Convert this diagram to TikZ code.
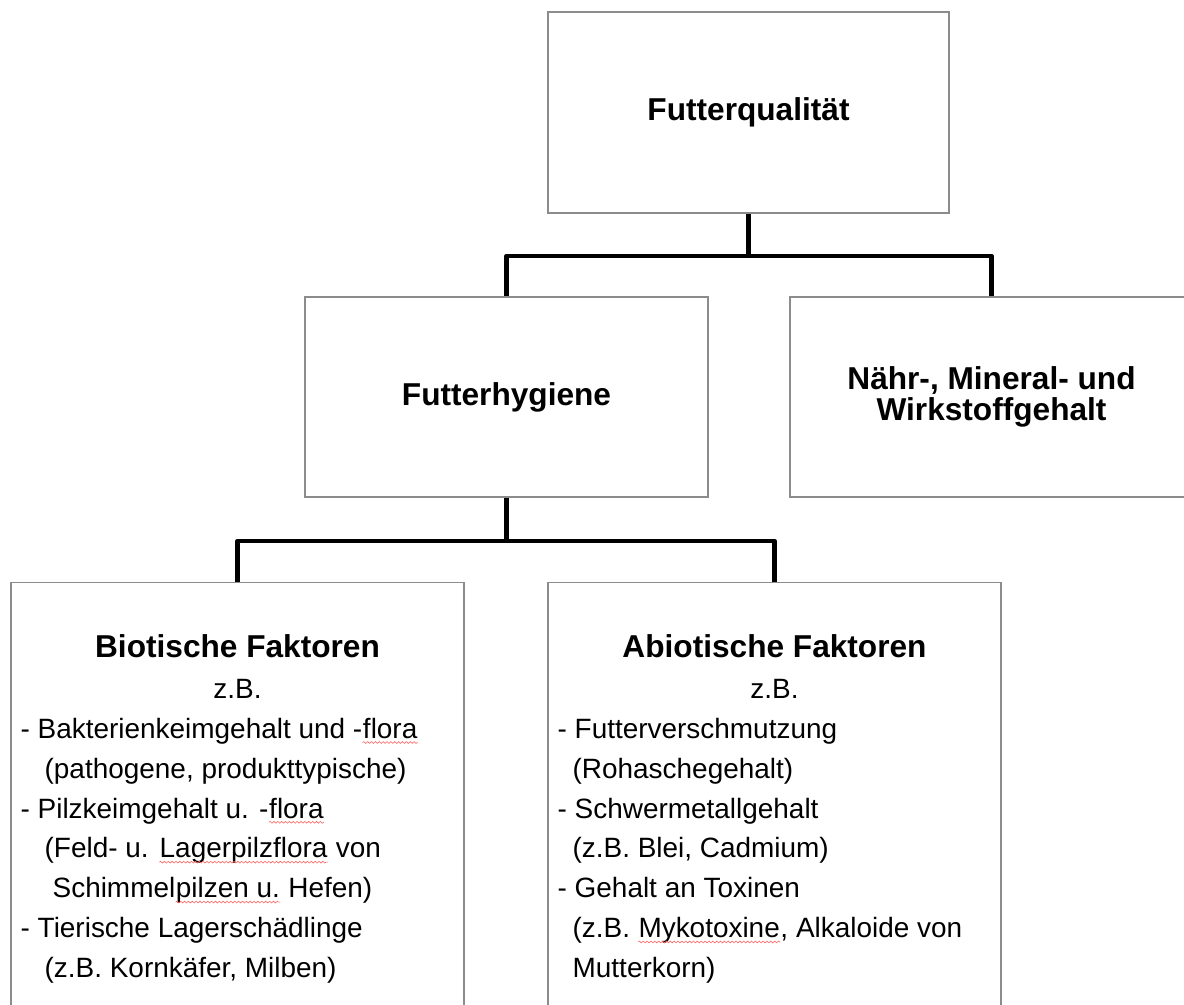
\documentclass[tikz,border=0pt]{standalone}
\usepackage{fontspec}
\setmainfont{Liberation Sans}
\usetikzlibrary{positioning,calc,shadows,decorations.pathmorphing}

\newcommand{\spellmark}[1]{\tikz[baseline=(word.base)]{%
  \node[inner sep=0pt] (word) {#1};
  \draw[red!60, line width=0.35pt, decorate,
    decoration={snake, amplitude=0.5pt, segment length=2.2pt}]
    ($(word.base west)+(0,-2.4pt)$) -- ($(word.base east)+(0,-2.4pt)$);}}

\tikzset{
  box/.style={draw=black!45, line width=0.8pt, fill=white,
    drop shadow={shadow xshift=0.8pt, shadow yshift=-0.8pt, opacity=0.35},
    minimum width=8.06cm, minimum height=4cm, align=center,
    font=\fontsize{18}{17.4}\selectfont\bfseries},
  link/.style={line width=2.3pt, line join=round},
  head/.style={font=\fontsize{18}{20}\selectfont\bfseries, inner sep=0pt},
  plain/.style={font=\fontsize{15.9}{22.7}\selectfont, inner sep=0pt, align=left},
}

\begin{document}
\begin{tikzpicture}
  \useasboundingbox (0,0) rectangle (23.68,-20.08);
  % boxes
  \node[box, minimum width=8.02cm, minimum height=4.02cm] (top) at (14.97,-2.25) {Futterqualität};
  \node[box] (hyg) at (10.13,-7.94) {Futterhygiene};
  \node[box] (naehr) at (19.83,-7.94) {Nähr-, Mineral- und\\Wirkstoffgehalt};
  \node[box, minimum width=9.06cm, minimum height=9.2cm, anchor=north] (bio) at (4.75,-11.64) {};
  \node[box, minimum width=9.06cm, minimum height=9.2cm, anchor=north] (abio) at (15.49,-11.64) {};

  % connectors
  \coordinate (split1) at ($(top.south)+(0,-0.84)$);
  \coordinate (split2) at ($(hyg.south)+(0,-0.86)$);
  \draw[link] (top.south) -- (split1);
  \draw[link] (hyg.north) |- (split1) -| (naehr.north);
  \draw[link] (hyg.south) -- (split2);
  \draw[link] (bio.north) |- (split2) -| (abio.north);

  % biotic factors
  \node[head, anchor=base] (biohead) at ($(bio.north)+(0,-1.5)$) {Biotische Faktoren};
  \node[plain, anchor=base] (biozb) at ($(bio.north)+(0,-2.32)$) {z.B.};
  \node[plain, anchor=north west] (biolist) at ($(bio.north west)+(0.2,-2.56)$)
    {\strut- Bakterienkeimgehalt und -\spellmark{flora}\\
     \hspace*{0.48cm}(pathogene, produkttypische)\\
     - Pilzkeimgehalt u. -\spellmark{flora}\\
     \hspace*{0.48cm}(Feld- u. \spellmark{Lagerpilzflora} von\\
     \hspace*{0.64cm}Schimmel\spellmark{pilzen u.} Hefen)\\
     - Tierische Lagerschädlinge\\
     \hspace*{0.48cm}(z.B. Kornkäfer, Milben)};

  % abiotic factors
  \node[head, anchor=base] (abiohead) at ($(abio.north)+(0,-1.5)$) {Abiotische Faktoren};
  \node[plain, anchor=base] (abiozb) at ($(abio.north)+(0,-2.32)$) {z.B.};
  \node[plain, anchor=north west] (abiolist) at ($(abio.north west)+(0.2,-2.56)$)
    {\strut- Futterverschmutzung\\
     \hspace*{0.3cm}(Rohaschegehalt)\\
     - Schwermetallgehalt\\
     \hspace*{0.3cm}(z.B. Blei, Cadmium)\\
     - Gehalt an Toxinen\\
     \hspace*{0.3cm}(z.B. \spellmark{Mykotoxine}, Alkaloide von\\
     \hspace*{0.3cm}Mutterkorn)};
\end{tikzpicture}
\end{document}
